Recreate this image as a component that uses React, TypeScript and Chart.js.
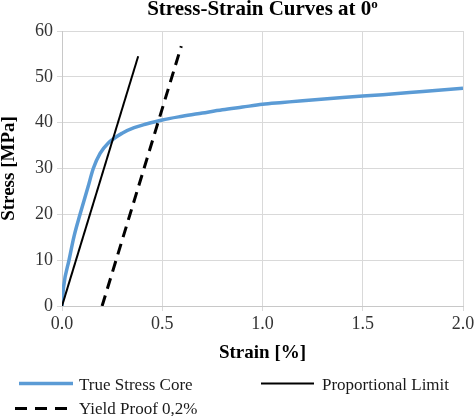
import React, { useEffect, useRef } from "react";
import { Chart, registerables } from "chart.js";

Chart.register(...registerables);

const strainCore = [0, 0.008, 0.035, 0.06, 0.09, 0.13, 0.156, 0.19, 0.23, 0.3, 0.36, 0.42, 0.5, 0.6, 0.7, 0.8, 0.9, 1.0, 1.1, 1.2, 1.4, 1.6, 1.8, 2.0];
const stressCore = [0, 4.2, 10, 15.2, 20, 26, 30, 33.3, 35.5, 37.7, 38.9, 39.7, 40.6, 41.4, 42.1, 42.8, 43.4, 44.0, 44.4, 44.8, 45.5, 46.1, 46.8, 47.5];
const strainProp = [0, 0.38];
const stressProp = [0, 54.5];
const strainYield = [0.2, 0.595];
const stressYield = [0, 56.7];

const titleText = "Stress-Strain Curves at 0";
const titleSup = "o";
const xTitle = "Strain [%]";
const yTitle = "Stress [MPa]";
const seriesNames = ["True Stress Core", "Proportional Limit", "Yield Proof 0,2%"];

const BLUE = "#5b9bd5";
const SERIF = "'Liberation Serif', 'Times New Roman', serif";

const toXY = (xs: number[], ys: number[]) => xs.map((x, i) => ({ x, y: ys[i] }));

const textPlugin = {
  id: "customText",
  afterDraw(chart: any) {
    const ctx = chart.ctx;
    const area = chart.chartArea;
    const cx = (area.left + area.right) / 2;
    ctx.save();
    ctx.fillStyle = "#000";
    // title
    ctx.font = `bold 21px ${SERIF}`;
    const w1 = ctx.measureText(titleText).width;
    ctx.font = `bold 13px ${SERIF}`;
    const w2 = ctx.measureText(titleSup).width;
    const start = cx - (w1 + w2) / 2;
    ctx.textAlign = "left";
    ctx.textBaseline = "alphabetic";
    ctx.font = `bold 21px ${SERIF}`;
    ctx.fillText(titleText, start, 15);
    ctx.font = `bold 13px ${SERIF}`;
    ctx.fillText(titleSup, start + w1, 8);
    // x title
    ctx.font = `bold 19px ${SERIF}`;
    ctx.textAlign = "center";
    ctx.fillText(xTitle, cx, 358);
    // y title
    ctx.save();
    ctx.translate(9.5, (area.top + area.bottom) / 2);
    ctx.rotate(-Math.PI / 2);
    ctx.textBaseline = "middle";
    ctx.fillText(yTitle, 0, 0);
    ctx.restore();
    // legend
    ctx.font = `17px ${SERIF}`;
    ctx.textAlign = "left";
    ctx.fillStyle = "#1a1a1a";
    ctx.lineCap = "butt";
    ctx.strokeStyle = BLUE;
    ctx.lineWidth = 3.5;
    ctx.beginPath();
    ctx.moveTo(19, 383.5);
    ctx.lineTo(73, 383.5);
    ctx.stroke();
    ctx.fillText(seriesNames[0], 79, 389.5);
    ctx.strokeStyle = "#000";
    ctx.lineWidth = 2;
    ctx.beginPath();
    ctx.moveTo(261, 383.5);
    ctx.lineTo(314, 383.5);
    ctx.stroke();
    ctx.fillText(seriesNames[1], 322, 389.5);
    ctx.lineWidth = 3;
    ctx.setLineDash([12, 8]);
    ctx.beginPath();
    ctx.moveTo(15, 408.5);
    ctx.lineTo(67, 408.5);
    ctx.stroke();
    ctx.setLineDash([]);
    ctx.fillText(seriesNames[2], 79, 414);
    ctx.restore();
  },
};

export default function App() {
  const ref = useRef<HTMLCanvasElement>(null);
  useEffect(() => {
    if (!ref.current) return;
    const chart = new Chart(ref.current, {
      type: "scatter",
      data: {
        datasets: [
          {
            label: seriesNames[0],
            data: toXY(strainCore, stressCore),
            showLine: true,
            borderColor: BLUE,
            backgroundColor: BLUE,
            borderWidth: 3.5,
            pointRadius: 0,
            cubicInterpolationMode: "monotone",
            order: 3,
          },
          {
            label: seriesNames[1],
            data: toXY(strainProp, stressProp),
            showLine: true,
            borderColor: "#000",
            backgroundColor: "#000",
            borderWidth: 2,
            pointRadius: 0,
            order: 2,
          },
          {
            label: seriesNames[2],
            data: toXY(strainYield, stressYield),
            showLine: true,
            borderColor: "#000",
            backgroundColor: "#000",
            borderWidth: 3,
            borderDash: [11, 7],
            pointRadius: 0,
            order: 1,
          },
        ],
      },
      options: {
        responsive: false,
        animation: false,
        layout: { padding: { top: 31, right: 11, left: 0, bottom: 0 } },
        plugins: {
          legend: { display: false },
          title: { display: false },
          tooltip: { enabled: false },
        },
        scales: {
          x: {
            type: "linear",
            min: 0,
            max: 2,
            afterFit: (s: any) => {
              s.height = 110;
              s.paddingLeft = 0;
              s.paddingRight = 0;
            },
            ticks: {
              stepSize: 0.5,
              callback: (v: any) => Number(v).toFixed(1),
              font: { family: SERIF, size: 18 },
              color: "#333",
              padding: 2,
              maxRotation: 0,
            },
            grid: { color: "#d9d9d9", tickLength: 5, lineWidth: 1 },
            border: { color: "#c8c8c8" },
          },
          y: {
            type: "linear",
            min: 0,
            max: 60,
            afterFit: (s: any) => {
              s.width = 62;
              s.paddingTop = 0;
              s.paddingBottom = 0;
            },
            ticks: {
              stepSize: 10,
              font: { family: SERIF, size: 18 },
              color: "#333",
              padding: 4,
            },
            grid: { color: "#d9d9d9", tickLength: 5, lineWidth: 1 },
            border: { color: "#c8c8c8" },
          },
        },
      },
      plugins: [textPlugin],
    });
    return () => chart.destroy();
  }, []);
  return (
    <canvas
      ref={ref}
      width={474}
      height={416}
      style={{ position: "fixed", left: 0, top: 0, display: "block" }}
    />
  );
}
